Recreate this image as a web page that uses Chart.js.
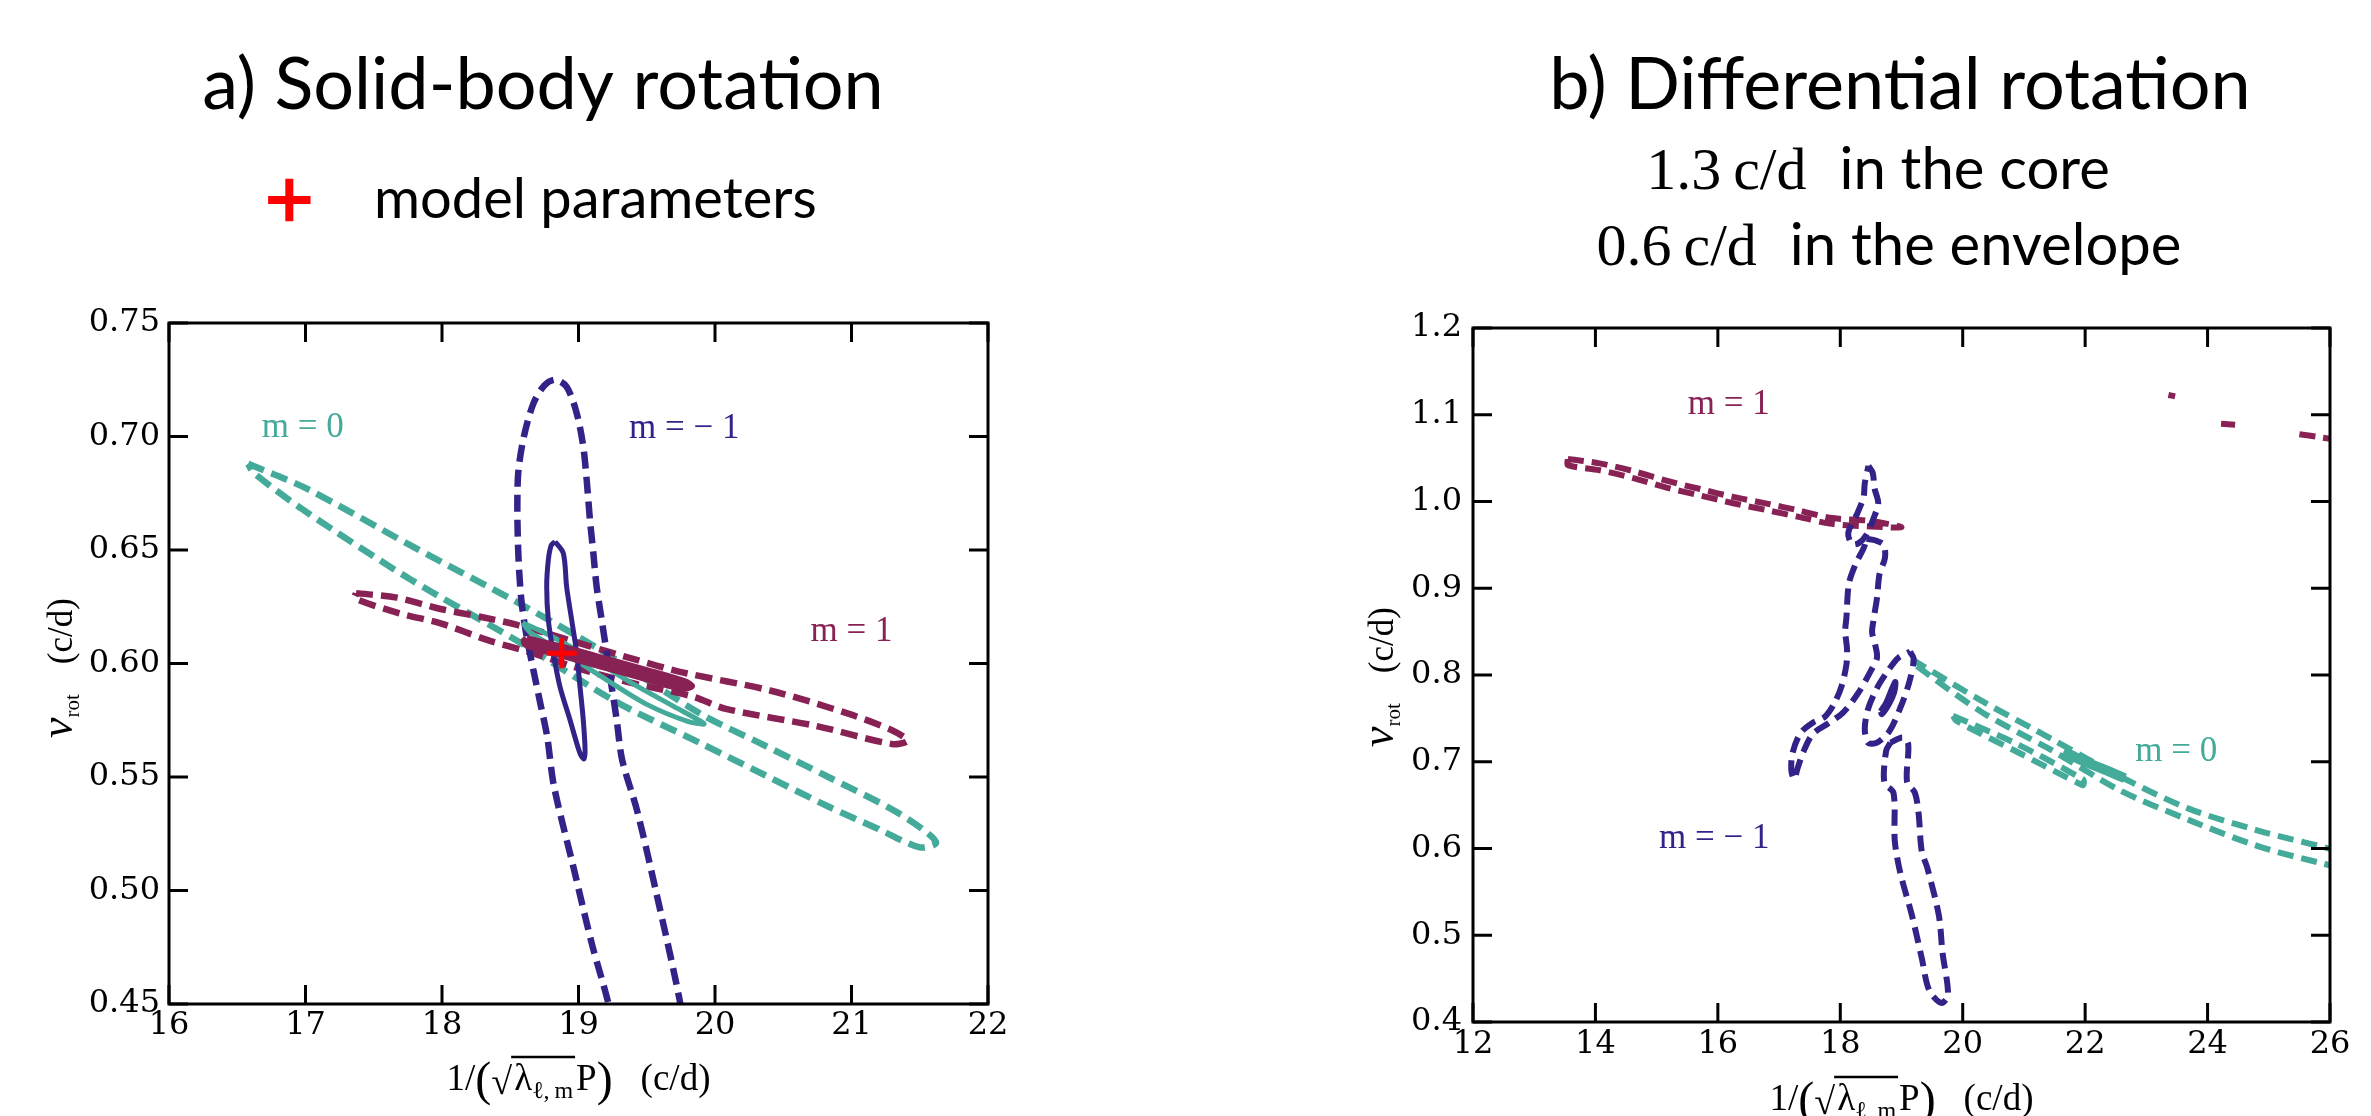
<!DOCTYPE html>
<html>
<head>
<meta charset="utf-8">
<title>Rotation frequency contours</title>
<script src="https://cdn.jsdelivr.net/npm/chart.js@4.4.1/dist/chart.umd.min.js"></script>
<style>
  html, body { margin: 0; padding: 0; background: #fff; }
  body { width: 2371px; height: 1116px; position: relative; overflow: hidden; }
  canvas { position: absolute; top: 0; }
  #panelA { left: 0; }
  #panelB { left: 1188px; }
</style>
</head>
<body>
<canvas id="panelA" width="1188" height="1116"></canvas>
<canvas id="panelB" width="1183" height="1116"></canvas>
<script>
// ── Colours / fonts ──
const TEAL = '#44aa99', WINE = '#882255', INDIGO = '#332288', RED = '#ff0000';
const SERIF = '"Liberation Serif", "DejaVu Serif", serif';
const TICKFONT = '"DejaVu Serif", serif';
const SANS = 'Lato, "Open Sans", sans-serif';

// ── Panel a: solid-body rotation ──
const aXTicks = [16, 17, 18, 19, 20, 21, 22];
const aYTicks = [0.45, 0.50, 0.55, 0.60, 0.65, 0.70, 0.75];
const aModel = [[18.877, 0.6045]];
const aTealOuter = [[16.58,0.688],[17.01,0.677],[17.77,0.652],[18.55,0.627],[19.16,0.606],[19.89,0.578],[20.36,0.564],[20.83,0.550],[21.29,0.536],[21.52,0.527],[21.62,0.521],
  [21.50,0.519],[21.20,0.527],[20.83,0.537],[20.36,0.551],[19.89,0.565],[19.28,0.583],[18.55,0.610],[17.77,0.637],[17.00,0.667],[16.62,0.684],[16.58,0.688]];
const aTealInner = [[18.59,0.618],[18.80,0.612],[19.10,0.602],[19.40,0.591],[19.70,0.581],[19.92,0.5735],[19.80,0.5745],[19.50,0.582],[19.20,0.593],[18.90,0.6045],[18.65,0.6135],[18.59,0.618]];
const aWineOuter = [[17.37,0.631],[17.67,0.629],[17.99,0.624],[18.28,0.6206],[18.55,0.617],[19.06,0.608],[19.40,0.602],[19.77,0.596],[20.41,0.588],[20.97,0.578],[21.30,0.5705],[21.41,0.566],
  [21.30,0.5645],[20.74,0.5725],[20.08,0.580],[19.84,0.5854],[19.40,0.5913],[19.04,0.5971],[18.67,0.6045],[18.33,0.6104],[17.99,0.6177],[17.69,0.6221],[17.36,0.6287],[17.37,0.631]];
const aWineInner = [[18.62,0.611],[18.90,0.607],[19.20,0.602],[19.50,0.597],[19.78,0.592],[19.83,0.590],[19.75,0.589],[19.45,0.594],[19.15,0.599],[18.85,0.604],[18.62,0.608],[18.60,0.610],[18.62,0.611]];
const aIndigoOuter = [[19.24,0.44],[19.22,0.45],[19.10,0.476],[18.96,0.511],[18.82,0.546],[18.77,0.568],[18.72,0.5825],[18.67,0.597],[18.62,0.612],[18.584,0.6265],[18.565,0.641],[18.555,0.656],[18.552,0.671],[18.56,0.685],[18.60,0.700],[18.67,0.7146],[18.75,0.7225],[18.83,0.725],
  [18.913,0.7219],[18.987,0.7102],[19.035,0.6955],[19.06,0.6808],[19.084,0.6632],[19.109,0.6485],[19.133,0.6338],[19.17,0.6192],[19.207,0.6045],[19.243,0.5898],[19.28,0.5751],[19.32,0.5575],[19.43,0.535],[19.57,0.499],[19.74,0.452],[19.76,0.44]];
const aIndigoInner = [[18.828,0.6537],[18.889,0.6485],[18.913,0.6338],[18.950,0.6192],[18.987,0.6045],[19.011,0.5898],[19.035,0.5751],[19.048,0.5619],[19.04,0.558],
  [19.011,0.5604],[18.938,0.5751],[18.864,0.5898],[18.816,0.6045],[18.779,0.6192],[18.767,0.6338],[18.779,0.6456],[18.80,0.652],[18.828,0.6537]];
const aNoteText = ['m = 0', 'm = \u2212 1', 'm = 1'];
const aNoteX = [16.68, 19.37, 20.70];
const aNoteY = [0.7037, 0.7035, 0.614];

// ── Panel b: differential rotation ──
const bXTicks = [12, 14, 16, 18, 20, 22, 24, 26];
const bYTicks = [0.4, 0.5, 0.6, 0.7, 0.8, 0.9, 1.0, 1.1, 1.2];
const bWineBand = [[13.55,1.049],[14.07,1.044],[14.62,1.035],[15.16,1.024],[15.71,1.0144],[16.25,1.0053],[16.80,0.9976],[17.34,0.9894],[17.83,0.9812],[18.49,0.9776],[19.00,0.9703],
  [18.49,0.9712],[17.83,0.9745],[17.34,0.982],[16.80,0.990],[16.25,0.998],[15.71,1.007],[15.16,1.016],[14.62,1.027],[14.07,1.036],[13.55,1.042],[13.55,1.049]];
const bWineFrags = [[23.36,1.1228],[23.47,1.1212],null,[24.22,1.0897],[24.45,1.0885],null,[25.50,1.0775],[25.80,1.0745],[26.30,1.069]];
const bIndigoTop = [[18.46,1.041],[18.53,1.033],[18.56,1.015],[18.62,0.998],[18.54,0.980],[18.43,0.962],[18.30,0.952],[18.19,0.951],[18.13,0.964],[18.27,0.985],[18.38,1.005],[18.40,1.021],[18.46,1.041]];
const bIndigoMain = [[18.43,0.957],[18.58,0.955],[18.71,0.950],[18.73,0.935],[18.64,0.916],[18.60,0.889],[18.54,0.862],[18.52,0.849],[18.57,0.835],[18.60,0.820],[18.50,0.805],[18.30,0.780],[18.05,0.757],[17.80,0.744],[17.55,0.732],[17.40,0.712],[17.30,0.692],[17.25,0.680],
  [17.20,0.690],[17.22,0.710],[17.35,0.733],[17.55,0.745],[17.75,0.752],[17.90,0.767],[18.02,0.787],[18.10,0.812],[18.11,0.830],[18.08,0.850],[18.10,0.866],[18.14,0.905],[18.25,0.928],[18.38,0.946],[18.43,0.957]];
const bIndigoMid = [[19.14,0.827],[19.20,0.818],[19.12,0.790],[18.98,0.762],[18.80,0.735],[18.60,0.722],[18.45,0.722],[18.40,0.738],[18.45,0.760],[18.60,0.785],[18.78,0.805],[18.95,0.820],[19.14,0.827]];
const bIndigoLow = [[18.82,0.722],[18.75,0.713],[18.72,0.676],[18.87,0.664],[18.89,0.609],[18.98,0.572],[19.17,0.523],[19.33,0.474],[19.45,0.437],[19.65,0.422],[19.76,0.431],
  [19.67,0.480],[19.61,0.523],[19.42,0.578],[19.33,0.597],[19.28,0.640],[19.22,0.664],[19.09,0.677],[19.11,0.720],[19.02,0.728],[18.82,0.722]];
const bIndigoCore = [[18.66,0.758],[18.75,0.768],[18.85,0.785],[18.90,0.792],[18.88,0.780],[18.79,0.766],[18.68,0.755],[18.66,0.758]];
const bTealLong = [[19.17,0.818],[20.34,0.769],[21.46,0.726],[22.57,0.683],[23.69,0.646],[24.81,0.621],[25.98,0.600],[26.30,0.594],
  [26.30,0.578],[25.81,0.584],[24.81,0.603],[23.69,0.633],[22.57,0.667],[21.46,0.713],[20.34,0.756],[19.22,0.812],[19.17,0.818]];
const bTealShort = [[19.84,0.753],[20.90,0.720],[21.96,0.680],[21.98,0.676],[21.96,0.673],[20.90,0.711],[19.90,0.747],[19.84,0.753]];
const bTealCore = [[21.65,0.712],[22.00,0.700],[22.35,0.690],[22.65,0.681]];
const bNoteText = ['m = 1', 'm = 0', 'm = \u2212 1'];
const bNoteX = [15.51, 22.82, 15.04];
const bNoteY = [1.111, 0.711, 0.611];

// ── Dataset helpers ──
const pts = arr => arr.map(p => p ? { x: p[0], y: p[1] } : { x: null, y: null });

function contour(data, color, opts = {}) {
  return {
    data: pts(data),
    showLine: true,
    borderColor: color,
    backgroundColor: color,
    borderWidth: opts.width || 6.5,
    borderDash: opts.dash || [],
    borderCapStyle: 'butt',
    fill: opts.fill ? 'shape' : false,
    pointRadius: 0,
    tension: 0.3,
    spanGaps: false
  };
}

// ── Axes ──
function axis(min, max, ticks, fmt, horizontal, size, pad) {
  return {
    type: 'linear', min, max,
    grid: { display: false, drawTicks: false },
    border: { display: false },
    afterBuildTicks: s => { s.ticks = ticks.map(v => ({ value: v })); },
    afterFit: s => { if (horizontal) s.height = size; else s.width = size; },
    ticks: {
      font: { family: TICKFONT, size: 32 }, color: '#000', padding: pad,
      maxRotation: 0, autoSkip: false, callback: v => fmt(v)
    }
  };
}

// ── Text runs (mixed fonts, subscripts) ──
function runsWidth(ctx, runs) {
  return runs.reduce((w, r) => {
    if (r.gap) return w + r.gap;
    ctx.font = r.font;
    return w + ctx.measureText(r.t).width;
  }, 0);
}
function drawRuns(ctx, runs, x0, base) {
  let x = x0;
  const marks = {};
  runs.forEach(r => {
    if (r.gap) { x += r.gap; return; }
    ctx.font = r.font;
    if (r.mark) marks[r.mark] = x;
    ctx.fillText(r.t, x, base + (r.dy || 0));
    x += ctx.measureText(r.t).width;
    if (r.markEnd) marks[r.markEnd] = x;
  });
  return marks;
}

const xTitleRuns = [
  { t: '1/', font: `37px ${SERIF}` },
  { t: '(', font: `48px ${SERIF}`, dy: 5 },
  { t: '\u221A', font: `38px ${SERIF}`, dy: 4 },
  { gap: 2 },
  { t: '\u03BB', font: `37px ${SERIF}`, mark: 'barStart' },
  { t: '\u2113,\u2009m', font: `24px ${SERIF}`, dy: 8, markEnd: 'barEnd' },
  { gap: 3 },
  { t: 'P', font: `37px ${SERIF}` },
  { t: ')', font: `48px ${SERIF}`, dy: 5 },
  { gap: 28 },
  { t: '(c/d)', font: `37px ${SERIF}` }
];
const yTitleRuns = [
  { t: '\u03BD', font: `italic 46px ${SERIF}` },
  { t: 'rot', font: `21px ${SERIF}`, dy: 7 },
  { gap: 30 },
  { t: '(c/d)', font: `35px ${SERIF}` }
];

// ── Frame with inward ticks on all four sides ──
const TICK = 19;
Chart.register({
  id: 'frame',
  afterDraw(chart) {
    const { ctx, chartArea: a, scales: { x, y } } = chart;
    ctx.save();
    ctx.strokeStyle = '#000';
    ctx.lineWidth = 3;
    ctx.beginPath();
    x.ticks.forEach(t => {
      const px = x.getPixelForValue(t.value);
      ctx.moveTo(px, a.bottom); ctx.lineTo(px, a.bottom - TICK);
      ctx.moveTo(px, a.top); ctx.lineTo(px, a.top + TICK);
    });
    y.ticks.forEach(t => {
      const py = y.getPixelForValue(t.value);
      ctx.moveTo(a.left, py); ctx.lineTo(a.left + TICK, py);
      ctx.moveTo(a.right, py); ctx.lineTo(a.right - TICK, py);
    });
    ctx.stroke();
    ctx.strokeRect(a.left, a.top, a.right - a.left, a.bottom - a.top);
    ctx.restore();
  }
});

// ── Per-panel overlay: m labels, axis titles, headings ──
function overlay(cfg) {
  return {
    id: 'overlay',
    afterDatasetsDraw(chart) {
      const { ctx, scales: { x, y } } = chart;
      ctx.save();
      ctx.font = `35px ${SERIF}`;
      ctx.textBaseline = 'middle';
      ctx.textAlign = 'left';
      cfg.noteText.forEach((t, i) => {
        ctx.fillStyle = cfg.noteColor[i];
        ctx.fillText(t, x.getPixelForValue(cfg.noteX[i]), y.getPixelForValue(cfg.noteY[i]));
      });
      ctx.restore();
    },
    afterDraw(chart) {
      const { ctx, chartArea: a } = chart;
      ctx.save();
      ctx.fillStyle = '#000';
      ctx.textBaseline = 'alphabetic';
      ctx.textAlign = 'left';

      // x title, centred under the plot
      const xw = runsWidth(ctx, xTitleRuns);
      const m = drawRuns(ctx, xTitleRuns, (a.left + a.right) / 2 - xw / 2, cfg.xTitleBase);
      ctx.strokeStyle = '#000';
      ctx.lineWidth = 2.5;
      ctx.beginPath();
      ctx.moveTo(m.barStart - 3, cfg.xTitleBase - 33);
      ctx.lineTo(m.barEnd + 2, cfg.xTitleBase - 33);
      ctx.stroke();

      // y title, rotated
      ctx.save();
      ctx.translate(cfg.yTitleBase, cfg.yTitleMid);
      ctx.rotate(-Math.PI / 2);
      drawRuns(ctx, yTitleRuns, -runsWidth(ctx, yTitleRuns) / 2, 0);
      ctx.restore();

      // headings above the plot
      cfg.headings.forEach(h => {
        const w = runsWidth(ctx, h.runs);
        drawRuns(ctx, h.runs, h.cx - w / 2, h.base);
      });
      ctx.restore();
    }
  };
}

// ── Legend tweaks: fixed height, centred on the heading ──
const LEGEND_H = 161;
const legendBox = {
  id: 'legendBox',
  beforeInit(chart) {
    const fit = chart.legend.fit;
    chart.legend.fit = function () { fit.call(this); this.height = LEGEND_H; };
  },
  afterLayout(chart) {
    chart.legend.left = 0;
    chart.legend.right = 1078;
  }
};

function baseOptions(p) {
  return {
    responsive: false,
    animation: false,
    devicePixelRatio: 1,
    layout: { padding: p.padding },
    plugins: { legend: p.legend || { display: false }, tooltip: { enabled: false } },
    scales: {
      x: axis(p.xMin, p.xMax, p.xTicks, v => String(v), true, p.xAxisH, p.xPad),
      y: axis(p.yMin, p.yMax, p.yTicks, v => v.toFixed(p.yDigits), false, p.yAxisW, p.yPad)
    }
  };
}

// ── Panel a ──
const DASH_A = [17, 8];
new Chart(document.getElementById('panelA'), {
  type: 'scatter',
  data: {
    datasets: [
      { label: 'model parameters', data: pts(aModel), pointStyle: 'cross', pointRadius: 15,
        pointBorderWidth: 5, pointBorderColor: RED, pointBackgroundColor: RED, borderColor: RED, showLine: false },
      contour(aWineInner, WINE, { width: 6.5, fill: true }),
      contour(aIndigoInner, INDIGO, { width: 5 }),
      contour(aTealInner, TEAL, { width: 5 }),
      contour(aIndigoOuter, INDIGO, { dash: DASH_A }),
      contour(aWineOuter, WINE, { dash: DASH_A }),
      contour(aTealOuter, TEAL, { dash: DASH_A })
    ]
  },
  options: baseOptions({
    padding: { top: 162, left: 0, right: 200, bottom: 0 },
    xMin: 16, xMax: 22, yMin: 0.45, yMax: 0.75, xTicks: aXTicks, yTicks: aYTicks, yDigits: 2,
    xAxisH: 112, yAxisW: 169, xPad: 2, yPad: 9,
    legend: {
      display: true, position: 'top', align: 'center',
      labels: {
        usePointStyle: true, boxWidth: 56, boxHeight: 30, padding: 10,
        font: { family: SANS, size: 56 }, color: '#000',
        filter: item => item.datasetIndex === 0,
        generateLabels: chart => Chart.defaults.plugins.legend.labels.generateLabels(chart)
          .map(it => Object.assign(it, { text: '  ' + it.text, lineWidth: 8, strokeStyle: RED }))
      }
    }
  }),
  plugins: [legendBox, overlay({
    noteText: aNoteText, noteX: aNoteX, noteY: aNoteY, noteColor: [TEAL, INDIGO, WINE],
    xTitleBase: 1090, yTitleBase: 72, yTitleMid: 668,
    headings: [
      { cx: 543, base: 109, runs: [{ t: 'a) Solid-body rotation', font: `72px ${SANS}` }] }
    ]
  })]
});

// ── Panel b ──
const DASH_B = [16, 8];
new Chart(document.getElementById('panelB'), {
  type: 'scatter',
  data: {
    datasets: [
      contour(bIndigoCore, INDIGO, { width: 6, fill: true }),
      contour(bTealCore, TEAL, { width: 10 }),
      contour(bIndigoTop, INDIGO, { dash: DASH_B, width: 6 }),
      contour(bIndigoMain, INDIGO, { dash: DASH_B, width: 6 }),
      contour(bIndigoMid, INDIGO, { dash: DASH_B, width: 6 }),
      contour(bIndigoLow, INDIGO, { dash: DASH_B, width: 6 }),
      contour(bWineBand, WINE, { dash: DASH_B, width: 6 }),
      contour(bWineFrags, WINE, { dash: DASH_B, width: 6 }),
      contour(bTealShort, TEAL, { dash: DASH_B, width: 6 }),
      contour(bTealLong, TEAL, { dash: DASH_B, width: 6 })
    ]
  },
  options: baseOptions({
    padding: { top: 328, left: 0, right: 41, bottom: 0 },
    xMin: 12, xMax: 26, yMin: 0.4, yMax: 1.2, xTicks: bXTicks, yTicks: bYTicks, yDigits: 1,
    xAxisH: 94, yAxisW: 285, xPad: 3, yPad: 11
  }),
  plugins: [overlay({
    noteText: bNoteText, noteX: bNoteX, noteY: bNoteY, noteColor: [WINE, TEAL, INDIGO],
    xTitleBase: 1110, yTitleBase: 205, yTitleMid: 677,
    headings: [
      { cx: 712, base: 109, runs: [{ t: 'b) Differential rotation', font: `72px ${SANS}` }] },
      { cx: 690, base: 189, runs: [{ t: '1.3\u2009c/d', font: `60px ${SERIF}` }, { gap: 33 }, { t: 'in the core', font: `58px ${SANS}` }] },
      { cx: 701, base: 265, runs: [{ t: '0.6\u2009c/d', font: `60px ${SERIF}` }, { gap: 33 }, { t: 'in the envelope', font: `58px ${SANS}` }] }
    ]
  })]
});
</script>
</body>
</html>
